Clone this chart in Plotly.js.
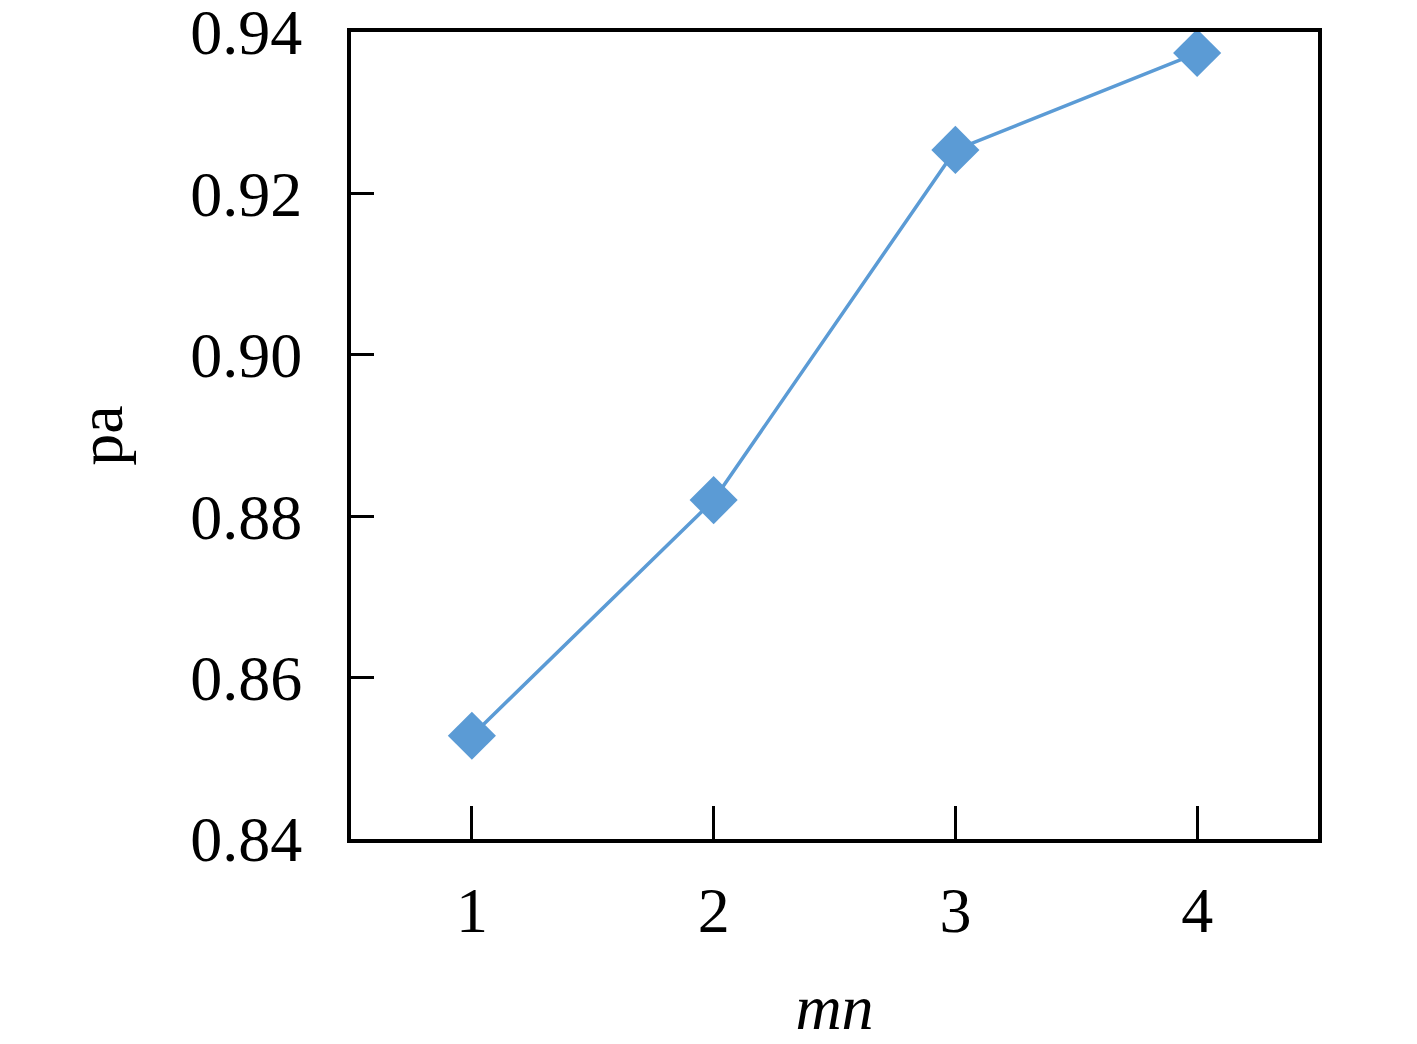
<!DOCTYPE html>
<html>
<head>
<meta charset="utf-8">
<script src="https://cdn.plot.ly/plotly-3.0.1.min.js"></script>
<style>html,body{margin:0;padding:0;background:#fff;}#chart{width:1417px;height:1044px;}</style>
</head>
<body>
<div id="chart"></div>
<script>
const mn = [1, 2, 3, 4];
const pa = [0.8528, 0.8820, 0.9254, 0.9374];
const xTickLabels = ['1', '2', '3', '4'];
const yTickValues = [0.84, 0.86, 0.88, 0.90, 0.92, 0.94];
const yTickLabels = ['0.84', '0.86', '0.88', '0.90', '0.92', '0.94'];

const font = 'Liberation Serif, DejaVu Serif, serif';
const trace = {
  x: mn, y: pa, type: 'scatter', mode: 'lines+markers',
  line: {color: '#5B9BD5', width: 3.5},
  marker: {symbol: 'diamond', size: 37, color: '#5B9BD5'},
  cliponaxis: false
};
const layout = {
  width: 1417, height: 1044,
  margin: {l: 351, r: 99, t: 32, b: 205},
  paper_bgcolor: '#fff', plot_bgcolor: '#fff',
  showlegend: false,
  font: {family: font, color: '#000', size: 64},
  xaxis: {
    range: [0.5, 4.5], tickvals: mn, ticktext: xTickLabels,
    ticks: 'inside', ticklen: 33, tickwidth: 3, tickcolor: '#000',
    showline: true, linecolor: '#000', linewidth: 4, mirror: true,
    showgrid: false, zeroline: false,
    tickfont: {family: font, size: 64, color: '#000'},
    ticklabelstandoff: 12, ticklabeloverflow: 'allow',
    title: {text: '<i>mn</i>', font: {family: font, size: 64, color: '#000'}, standoff: 40}
  },
  yaxis: {
    range: [0.84, 0.94001], tickvals: yTickValues, ticktext: yTickLabels,
    ticks: 'inside', ticklen: 23, tickwidth: 3, tickcolor: '#000',
    showline: true, linecolor: '#000', linewidth: 4, mirror: true,
    showgrid: false, zeroline: false,
    tickfont: {family: font, size: 64, color: '#000'},
    ticklabelstandoff: 32, ticklabeloverflow: 'allow',
    title: {text: 'pa', font: {family: font, size: 64, color: '#000'}, standoff: 48}
  }
};
Plotly.newPlot('chart', [trace], layout, {displayModeBar: false, staticPlot: true});
</script>
</body>
</html>
